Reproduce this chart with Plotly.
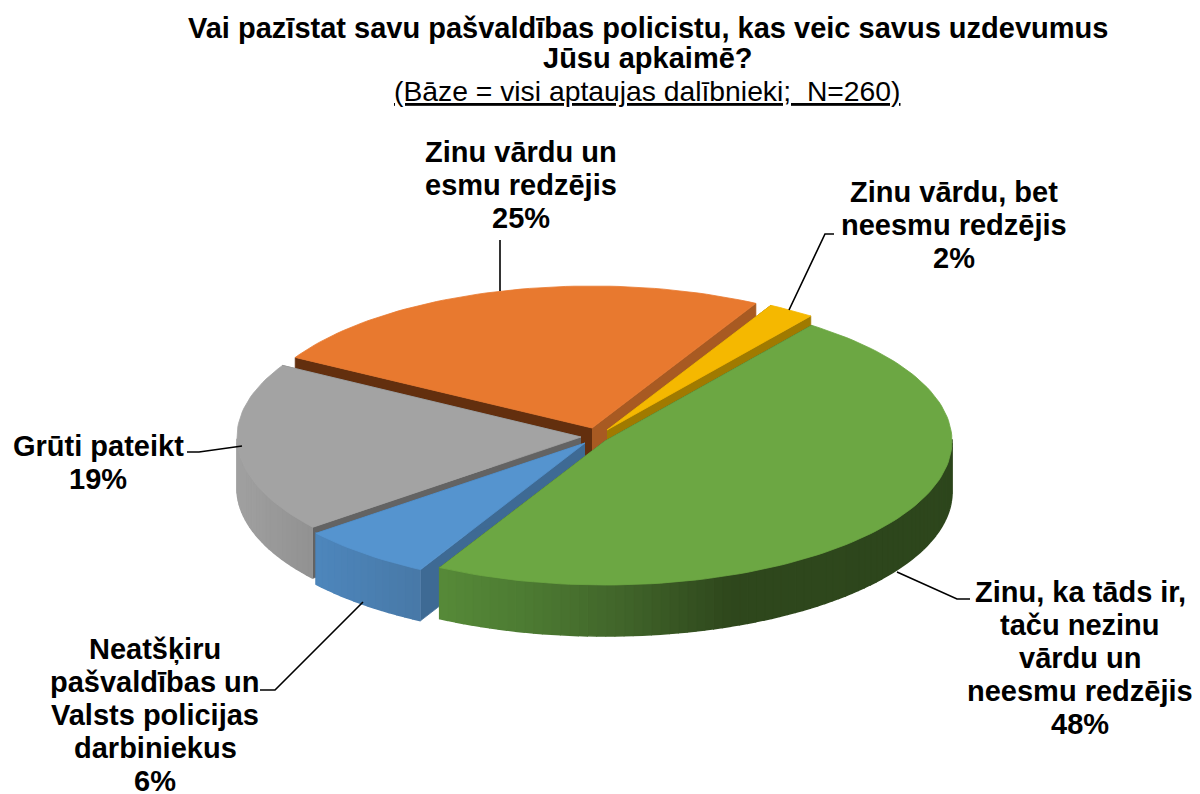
import numpy as np
import plotly.graph_objects as go

# ---- data -------------------------------------------------------------
categories = ["Zinu vārdu un|esmu redzējis", "Zinu vārdu, bet|neesmu redzējis",
              "Zinu, ka tāds ir,|taču nezinu|vārdu un|neesmu redzējis",
              "Neatšķiru|pašvaldības un|Valsts policijas|darbiniekus", "Grūti pateikt"]
values = [24.6, 2.2, 47.6, 6.3, 19.0]      # slice sizes
value_labels = ["25%", "2%", "48%", "6%", "19%"]
title_lines = ["Vai pazīstat savu pašvaldības policistu, kas veic savus uzdevumus",
               "Jūsu apkaimē?"]
subtitle = "(Bāze = visi aptaujas dalībnieki;  N=260)"

# ---- style -------------------------------------------------------------
START = -60.2                      # clockwise from the top, degrees
top_colors = ["#E8792F", "#F5B800", "#6CA743", "#5594CF", "#A3A3A3"]
wall_start = ["#632F0E", "#8A6800", "#3B5A24", "#3E6A94", "#636363"]
wall_end = ["#A85A22", "#A07A00", "#3B5A24", "#3E6A94", "#636363"]
rim_stops = [
    ([300, 800], ["#8A4A1C", "#8A4A1C"]),
    ([760, 815], ["#8A6800", "#8A6800"]),
    ([440, 530, 620, 730, 960], ["#568A38", "#4C7A32", "#41652A", "#2E471C", "#2D461C"]),
    ([316, 415], ["#4D86BC", "#4879A8"]),
    ([238, 310], ["#A0A0A0", "#929292"]),
]
apex = [(592, 428), (607, 430), (605, 441), (585, 443), (581, 437)]
axes_ab = [(342, 142), (342, 142), (347, 144), (345, 144), (344, 144)]
DEPTH = 51
order = [0, 1, 4, 3, 2]            # painter's order

label_pos = [(521, 152), (954, 192), (1080, 592), (155, 649), (98, 446)]
PITCH = 33
leaders = [
    ([500, 500], [240, 291]),
    ([834, 825, 789], [234, 234, 310]),
    ([970, 957, 897], [599, 599, 572]),
    ([260, 275, 363], [690, 690, 602]),
    ([187, 199, 242], [452, 452, 446]),
]

def hex_rgb(c):
    return np.array([int(c[i:i + 2], 16) for i in (1, 3, 5)], float)

def mix(xs, cols, x):
    rgb = [np.interp(x, xs, [hex_rgb(c)[k] for c in cols]) for k in range(3)]
    return "rgb(%d,%d,%d)" % tuple(round(v) for v in rgb)

def poly(fig, xs, ys, color, lw=0.8):
    fig.add_trace(go.Scatter(x=xs, y=ys, mode="lines", fill="toself", fillcolor=color,
                             line=dict(color=color, width=lw), hoverinfo="skip",
                             showlegend=False))

fig = go.Figure()
edges = START + np.concatenate([[0], np.cumsum(values)]) * 360 / sum(values)

for i in order:
    a0, a1 = np.radians(edges[i]), np.radians(edges[i + 1])
    cx, cy = apex[i]
    a, b = axes_ab[i]
    th = np.linspace(a0, a1, max(int(np.degrees(a1 - a0) / 1.5), 3) + 1)
    rx, ry = cx + a * np.sin(th), cy - b * np.cos(th)
    # radial walls
    poly(fig, [cx, rx[0], rx[0], cx], [cy, ry[0], ry[0] + DEPTH, cy + DEPTH], wall_start[i])
    poly(fig, [cx, rx[-1], rx[-1], cx], [cy, ry[-1], ry[-1] + DEPTH, cy + DEPTH], wall_end[i])
    # outer wall in thin shaded bands, only where it faces the viewer
    xs_c, cols = rim_stops[i]
    for k in range(len(th) - 1):
        if np.cos((th[k] + th[k + 1]) / 2) > 0:
            continue
        col = mix(xs_c, cols, (rx[k] + rx[k + 1]) / 2)
        poly(fig, [rx[k], rx[k + 1], rx[k + 1], rx[k]],
             [ry[k], ry[k + 1], ry[k + 1] + DEPTH, ry[k] + DEPTH], col, lw=1.6)
    # top face
    poly(fig, [cx, *rx, cx], [cy, *ry, cy], top_colors[i])

for lx, ly in leaders:
    fig.add_trace(go.Scatter(x=lx, y=ly, mode="lines", line=dict(color="#000000", width=1.6),
                             hoverinfo="skip", showlegend=False))

anns = []
def text(x, y, s, size, bold=True):
    anns.append(dict(x=x, y=y, xref="x", yref="y", text=f"<b>{s}</b>" if bold else s,
                     showarrow=False, xanchor="center", yanchor="middle",
                     font=dict(family="Liberation Sans", size=size, color="#000000")))

for i in range(5):
    lines = categories[i].split("|") + [value_labels[i]]
    for j, s in enumerate(lines):
        text(label_pos[i][0], label_pos[i][1] + j * PITCH, s, 29)

text(648, 28, title_lines[0], 29)
text(648, 58, title_lines[1], 29)
text(647, 91, f"<u>{subtitle}</u>", 28.3, bold=False)

# the page has an 8 px body margin: the plot area covers pixels 8..1200 and 8..794
fig.update_layout(
    width=1192, height=786, margin=dict(l=0, r=0, t=0, b=0),
    paper_bgcolor="#FFFFFF", plot_bgcolor="#FFFFFF", annotations=anns,
    xaxis=dict(range=[8, 1200], visible=False, fixedrange=True),
    yaxis=dict(range=[794, 8], visible=False, fixedrange=True),
    showlegend=False,
)
fig.write_html("out.html", config={"displayModeBar": False})
